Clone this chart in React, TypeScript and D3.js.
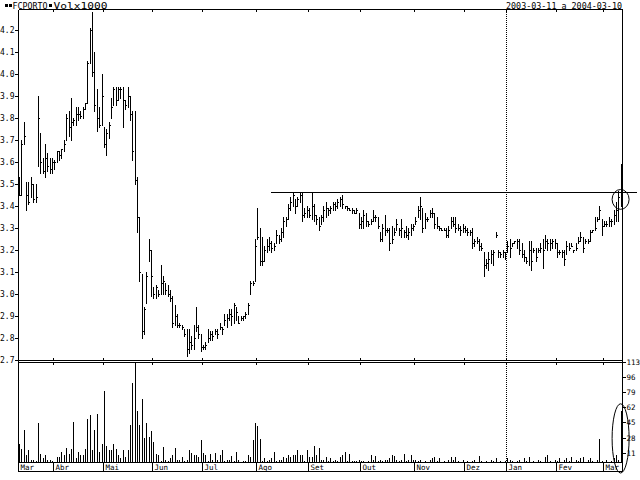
import React from 'react';
import * as d3 from 'd3';

const highs = [
  3.53,3.70,3.78,3.51,3.51,3.53,3.50,3.50,3.90,3.73,
  3.62,3.68,3.64,3.62,3.62,3.61,3.65,3.65,3.66,3.70,
  3.82,3.83,3.89,3.80,3.85,3.85,3.83,3.85,3.87,4.06,
  4.21,4.28,4.10,3.93,3.85,4.00,3.76,3.75,3.78,3.89,
  3.94,3.94,3.94,3.94,3.94,3.88,3.94,3.90,3.83,3.83,
  3.53,3.35,3.09,2.94,3.10,3.25,3.20,3.03,3.04,3.02,
  3.13,3.08,3.05,3.04,3.02,2.99,2.95,2.91,2.87,2.86,
  2.84,2.84,2.84,2.81,2.86,2.94,2.86,2.82,2.77,2.78,
  2.84,2.83,2.83,2.84,2.84,2.87,2.85,2.91,2.91,2.93,
  2.93,2.96,2.94,2.90,2.90,2.90,2.92,2.96,3.06,3.06,
  3.25,3.39,3.30,3.26,3.22,3.25,3.26,3.24,3.23,3.29,
  3.27,3.30,3.35,3.35,3.41,3.44,3.46,3.43,3.44,3.46,
  3.46,3.39,3.40,3.39,3.46,3.41,3.36,3.35,3.36,3.40,
  3.42,3.39,3.40,3.42,3.42,3.43,3.44,3.45,3.40,3.40,
  3.39,3.39,3.38,3.39,3.37,3.35,3.38,3.37,3.33,3.34,
  3.38,3.36,3.35,3.28,3.32,3.36,3.30,3.30,3.31,3.30,
  3.34,3.30,3.34,3.29,3.31,3.30,3.32,3.32,3.35,3.40,
  3.44,3.39,3.37,3.35,3.38,3.39,3.37,3.35,3.31,3.30,
  3.30,3.30,3.31,3.35,3.35,3.35,3.32,3.31,3.32,3.31,
  3.30,3.29,3.30,3.25,3.26,3.25,3.23,3.19,3.16,3.19,
  3.20,3.20,3.28,3.20,3.19,3.20,3.19,3.24,3.25,3.23,
  3.24,3.25,3.25,3.23,3.20,3.17,3.24,3.24,3.21,3.21,
  3.21,3.23,3.25,3.27,3.25,3.25,3.25,3.25,3.23,3.20,
  3.20,3.20,3.24,3.23,3.23,3.20,3.23,3.26,3.28,3.26,
  3.25,3.25,3.29,3.29,3.35,3.35,3.40,3.34,3.33,3.33,
  3.35,3.34,3.38,3.42,3.47,3.59,
];

const lows = [
  3.45,3.45,3.68,3.38,3.41,3.44,3.42,3.42,3.58,3.55,
  3.55,3.53,3.56,3.55,3.55,3.57,3.60,3.61,3.62,3.65,
  3.70,3.72,3.70,3.77,3.77,3.79,3.80,3.80,3.84,3.87,
  4.05,3.99,3.83,3.74,3.76,3.77,3.67,3.63,3.71,3.80,
  3.86,3.86,3.88,3.89,3.76,3.84,3.85,3.79,3.61,3.50,
  3.28,3.06,2.80,2.82,2.96,3.15,2.99,2.98,2.98,2.99,
  3.00,3.00,3.00,2.99,2.97,2.85,2.86,2.85,2.85,2.84,
  2.81,2.72,2.73,2.75,2.75,2.83,2.80,2.74,2.75,2.75,
  2.78,2.79,2.79,2.82,2.80,2.84,2.82,2.86,2.85,2.88,
  2.86,2.87,2.88,2.87,2.88,2.88,2.89,2.91,3.00,3.04,
  3.06,3.25,3.13,3.13,3.15,3.19,3.20,3.19,3.20,3.23,
  3.23,3.24,3.26,3.31,3.34,3.38,3.40,3.37,3.40,3.42,
  3.33,3.35,3.35,3.35,3.34,3.33,3.32,3.29,3.32,3.33,
  3.35,3.36,3.37,3.38,3.38,3.39,3.40,3.39,3.39,3.38,
  3.38,3.37,3.37,3.37,3.30,3.30,3.30,3.31,3.31,3.32,
  3.33,3.33,3.30,3.24,3.24,3.27,3.28,3.20,3.23,3.27,
  3.29,3.27,3.26,3.26,3.26,3.25,3.27,3.29,3.32,3.35,
  3.34,3.28,3.30,3.33,3.35,3.35,3.30,3.30,3.29,3.29,
  3.29,3.26,3.26,3.30,3.31,3.28,3.29,3.27,3.28,3.28,
  3.27,3.27,3.21,3.22,3.23,3.20,3.20,3.08,3.12,3.11,
  3.14,3.13,3.26,3.17,3.17,3.17,3.16,3.19,3.17,3.22,
  3.23,3.21,3.18,3.17,3.15,3.14,3.13,3.11,3.19,3.15,
  3.19,3.19,3.12,3.21,3.20,3.20,3.21,3.21,3.17,3.18,
  3.17,3.13,3.18,3.20,3.22,3.19,3.20,3.23,3.24,3.19,
  3.23,3.23,3.24,3.28,3.29,3.33,3.34,3.27,3.31,3.31,
  3.31,3.31,3.32,3.33,3.33,3.40,
];

const closes = [
  3.45,3.68,3.72,3.45,3.42,3.50,3.43,3.44,3.80,3.60,
  3.56,3.62,3.58,3.57,3.60,3.60,3.65,3.63,3.66,3.68,
  3.80,3.76,3.78,3.79,3.82,3.82,3.81,3.84,3.87,4.05,
  4.20,4.01,3.86,3.80,3.77,3.90,3.68,3.73,3.77,3.85,
  3.93,3.88,3.93,3.93,3.88,3.86,3.90,3.82,3.65,3.52,
  3.35,3.10,2.83,2.93,3.08,3.20,3.08,3.00,3.03,3.00,
  3.05,3.06,3.02,3.00,2.98,2.87,2.90,2.86,2.86,2.85,
  2.82,2.75,2.78,2.77,2.80,2.85,2.82,2.76,2.76,2.77,
  2.80,2.82,2.81,2.83,2.82,2.85,2.84,2.88,2.89,2.91,
  2.90,2.95,2.92,2.87,2.89,2.90,2.91,2.95,3.05,3.05,
  3.22,3.26,3.15,3.15,3.20,3.22,3.23,3.21,3.22,3.27,
  3.25,3.28,3.33,3.34,3.39,3.42,3.45,3.40,3.43,3.45,
  3.36,3.37,3.38,3.36,3.40,3.36,3.34,3.31,3.35,3.38,
  3.39,3.38,3.39,3.41,3.40,3.42,3.43,3.41,3.40,3.39,
  3.38,3.38,3.37,3.38,3.32,3.33,3.36,3.33,3.32,3.33,
  3.35,3.35,3.31,3.25,3.30,3.29,3.29,3.23,3.25,3.28,
  3.32,3.29,3.30,3.28,3.27,3.28,3.30,3.31,3.33,3.38,
  3.40,3.30,3.34,3.34,3.37,3.37,3.32,3.31,3.30,3.29,
  3.29,3.27,3.29,3.33,3.32,3.30,3.30,3.29,3.30,3.29,
  3.28,3.28,3.23,3.24,3.24,3.22,3.21,3.13,3.14,3.16,
  3.18,3.19,3.27,3.19,3.18,3.19,3.18,3.22,3.21,3.23,
  3.24,3.24,3.20,3.18,3.17,3.15,3.20,3.15,3.20,3.17,
  3.20,3.21,3.20,3.24,3.23,3.23,3.24,3.23,3.19,3.19,
  3.19,3.16,3.22,3.21,3.22,3.20,3.21,3.24,3.26,3.21,
  3.24,3.24,3.28,3.29,3.30,3.34,3.38,3.31,3.32,3.32,
  3.33,3.33,3.36,3.38,3.44,3.46,
];

// volume in thousands
const volumes = [
  22,16,38,9,15,4,4,3,46,11,
  6,9,4,4,3,2,7,7,13,9,
  17,11,16,47,6,13,9,10,16,50,
  54,15,38,56,13,22,81,20,15,15,
  22,16,10,6,15,7,15,43,90,113,
  59,43,72,29,45,30,37,24,11,10,
  3,19,4,3,6,10,17,4,4,7,
  3,4,15,12,9,10,7,26,12,9,
  3,11,4,12,4,9,15,3,4,4,
  8,3,13,4,2,3,3,10,7,26,
  46,42,27,3,6,3,4,6,13,3,
  4,4,7,6,9,7,10,10,15,9,
  10,3,15,7,7,20,10,17,4,4,
  7,3,6,3,4,3,7,9,13,3,
  11,3,3,3,4,3,3,2,3,9,
  4,8,3,4,3,4,4,6,9,8,
  4,3,4,11,3,4,10,4,4,3,
  4,2,3,2,4,6,7,3,6,2,
  3,2,4,7,4,7,3,2,4,2,
  3,2,3,4,2,8,3,2,3,2,
  4,3,6,2,3,2,3,6,4,3,
  2,3,4,2,6,3,7,2,3,2,
  4,3,2,7,9,3,2,4,3,6,
  2,4,6,3,7,2,4,3,6,7,
  2,4,6,3,2,4,27,3,2,4,
  2,3,6,10,4,59,
];

const monthLabels = ['Mar','Abr','Mai','Jun','Jul','Ago','Set','Out','Nov','Dez','Jan','Fev','Mar'];
const monthStarts = [0,15,36,57,78,101,123,145,168,189,207,228,248];
const priceTicks = [4.2,4.1,4.0,3.9,3.8,3.7,3.6,3.5,3.4,3.3,3.2,3.1,3.0,2.9,2.8,2.7];
const volumeTicks = [113,96,79,62,45,28,11];
const resistanceLevel = 3.465;
const resistanceFrom = 107;
const yearDividerIndex = 207;
const markedIndex = 255;
const markedPriceRange = [3.385, 3.475];
const markedVolumeTop = 66;
const title = 'FCPORTO';
const volumeTitle = 'Volx1000';
const periodLabel = '2003-03-11 a 2004-03-10';

const FONT = 'DejaVu Sans Mono, monospace';

export default function App() {
  const left = 18.5, right = 622.5, top = 9.5;
  const priceBottom = 360.5, volTop = 362.5, volBottom = 462.5, labelBottom = 471.5;

  const n = closes.length;
  const x = d3.scaleLinear().domain([0, n - 1]).range([19, 620.6]);
  const yP = d3.scaleLinear().domain([2.7, 4.2]).range([360, 30]);
  const yV = d3.scaleLinear().domain([0, 113]).range([462.5, 362]);

  const px = (i: number) => Math.round(x(i)) + 0.5;
  const py = (v: number) => Math.round(yP(v)) + 0.5;
  const sepX = (i: number) => Math.round(x(i) - 1.2) + 0.5;

  const resY = py(resistanceLevel);
  const ellX = x(markedIndex);
  const pTop = yP(markedPriceRange[1]);
  const pBot = yP(markedPriceRange[0]);
  const vTop = yV(markedVolumeTop);
  const vBot = labelBottom + 1.5;

  return (
    <svg width={640} height={480} style={{ position: 'absolute', left: 0, top: 0, background: '#fff' }}
      fontFamily={FONT}>
      <rect x={0} y={0} width={640} height={480} fill="#fff" />
      {/* header */}
      <rect x={5} y={4} width={3} height={3} fill="#000" />
      <rect x={9} y={4} width={3} height={3} fill="#000" />
      <text x={12.5} y={8.5} fontSize={8.5} textLength={35} lengthAdjust="spacingAndGlyphs">{title}</text>
      <rect x={49} y={4} width={3} height={3} fill="#000" />
      <text x={53.5} y={8.5} fontSize={8.5} textLength={54} lengthAdjust="spacingAndGlyphs">{volumeTitle}</text>
      <text x={506} y={8.5} fontSize={8.5} textLength={116} lengthAdjust="spacingAndGlyphs">{periodLabel}</text>

      <g stroke="#000" strokeWidth={1} shapeRendering="crispEdges" fill="none">
        {/* frames */}
        <line x1={left} y1={top} x2={right} y2={top} />
        <line x1={left} y1={top} x2={left} y2={labelBottom} />
        <line x1={right} y1={top} x2={right} y2={labelBottom} />
        <line x1={15} y1={priceBottom} x2={right} y2={priceBottom} />
        <line x1={left} y1={volTop} x2={right} y2={volTop} />
        <line x1={left} y1={volBottom} x2={right} y2={volBottom} />
        <line x1={left} y1={labelBottom} x2={right} y2={labelBottom} />

        {/* price ticks */}
        {priceTicks.map((t) => (
          <line key={'pt' + t} x1={15} x2={left} y1={py(t)} y2={py(t)} />
        ))}
        {/* volume ticks */}
        {volumeTicks.map((t) => (
          <line key={'vt' + t} x1={right} x2={626} y1={Math.round(yV(t)) + 0.5} y2={Math.round(yV(t)) + 0.5} />
        ))}

        {/* month separators and ticks */}
        {monthStarts.map((m, k) => {
          const sx = sepX(m);
          return (
            <g key={'m' + k}>
              <line x1={sx} x2={sx} y1={volBottom} y2={labelBottom} />
              {k > 0 && <line x1={sx} x2={sx} y1={top} y2={top + 2.5} />}
              {k > 0 && <line x1={sx} x2={sx} y1={priceBottom - 3} y2={priceBottom} />}
              {k > 0 && <line x1={sx} x2={sx} y1={volTop} y2={volTop + 2.5} />}
            </g>
          );
        })}

        {/* year divider */}
        <line x1={sepX(yearDividerIndex)} x2={sepX(yearDividerIndex)} y1={top} y2={volBottom}
          strokeDasharray="1 1" />

        {/* price bars */}
        {closes.map((c, i) => (
          <g key={'b' + i}>
            <line x1={px(i)} x2={px(i)} y1={Math.round(yP(highs[i]))} y2={Math.round(yP(lows[i])) + 1} />
            <line x1={px(i)} x2={px(i) + 1.5} y1={py(c)} y2={py(c)} />
          </g>
        ))}

        {/* volume bars */}
        {volumes.map((v, i) => (
          <line key={'v' + i} x1={px(i)} x2={px(i)} y1={volBottom} y2={Math.round(yV(v)) + 0.5} />
        ))}

        {/* resistance line */}
        <line x1={Math.round(x(resistanceFrom))} x2={637} y1={resY} y2={resY} />
      </g>

      {/* annotations */}
      <ellipse cx={ellX} cy={(pTop + pBot) / 2} rx={8.5} ry={(pBot - pTop) / 2} fill="none" stroke="#000" strokeWidth={1} />
      <ellipse cx={ellX} cy={(vTop + vBot) / 2} rx={8.5} ry={(vBot - vTop) / 2} fill="none" stroke="#000" strokeWidth={1} />

      {/* price labels */}
      {priceTicks.map((t) => (
        <text key={'pl' + t} x={14.5} y={yP(t) + 3} fontSize={8} textAnchor="end">{t.toFixed(1)}</text>
      ))}
      {/* volume labels */}
      {volumeTicks.map((t) => (
        <text key={'vl' + t} x={626.5} y={yV(t) + 3} fontSize={7.5}>{t}</text>
      ))}
      {/* month labels */}
      {monthLabels.map((m, k) => (
        <text key={'ml' + k} x={sepX(monthStarts[k]) + 2} y={469.5} fontSize={7.5}>{m}</text>
      ))}
    </svg>
  );
}
